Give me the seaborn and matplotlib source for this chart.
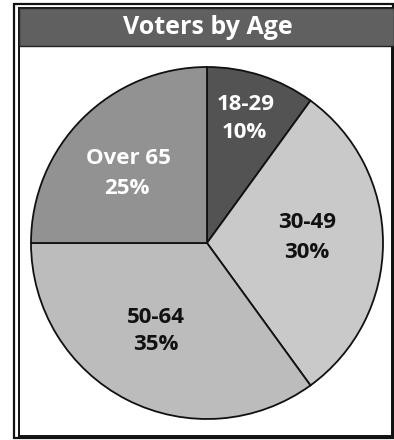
import matplotlib
matplotlib.use("Agg")
import matplotlib.pyplot as plt
import seaborn as sns
from matplotlib.patches import Rectangle

categories = ["18-29", "30-49", "50-64", "Over 65"]
values = [10, 30, 35, 25]
title = "Voters by Age"

sns.set_theme(style="white")
plt.rcParams['font.family'] = ['Open Sans', 'DejaVu Sans']

colors = ["#535353", "#c9c9c9", "#bcbcbc", "#929292"]
text_colors = ["white", "#111111", "#111111", "white"]

W, H = 394, 440
fig = plt.figure(figsize=(W / 100, H / 100), dpi=100)
fig.patch.set_facecolor("white")

def fx(x):
    return x / W

def fy(y):
    return 1 - y / H

# frame
fig.add_artist(Rectangle((fx(14), fy(438)), fx(393) - fx(14), fy(4) - fy(438),
                         transform=fig.transFigure, fill=False, ec="#111111", lw=1.6))
fig.add_artist(Rectangle((fx(19), fy(436)), fx(392) - fx(19), fy(8) - fy(436),
                         transform=fig.transFigure, fill=False, ec="#111111", lw=1.4))
# title band
fig.add_artist(Rectangle((fx(19), fy(46)), fx(394) - fx(19), fy(8) - fy(46),
                         transform=fig.transFigure, fc="#606060", ec="#222222", lw=1.0))
fig.text(fx(208), fy(28), title, color="white", fontsize=18, fontweight="bold",
         ha="center", va="center")

cx, cy, r = 207, 243, 176
ax = fig.add_axes([fx(cx - r), fy(cy + r), 2 * r / W, 2 * r / H])
wedges, _ = ax.pie(values, colors=colors, startangle=90, counterclock=False,
                   wedgeprops=dict(edgecolor="#111111", linewidth=1.3))
ax.set_xlim(-1, 1)
ax.set_ylim(-1, 1)
ax.set_aspect("auto")
ax.axis("off")

cat_pos = [(246, 104), (307, 222), (156, 317), (128, 159)]
pct_pos = [(244, 133), (307, 252), (156, 345), (127, 188)]
for (lx, ly), (px, py), cat, v, tc in zip(cat_pos, pct_pos, categories, values, text_colors):
    fig.text(fx(lx), fy(ly), cat, color=tc, fontsize=16, fontweight="bold",
             ha="center", va="center")
    fig.text(fx(px), fy(py), f"{v}%", color=tc, fontsize=16, fontweight="bold",
             ha="center", va="center")

fig.savefig("out.png", dpi=100)
